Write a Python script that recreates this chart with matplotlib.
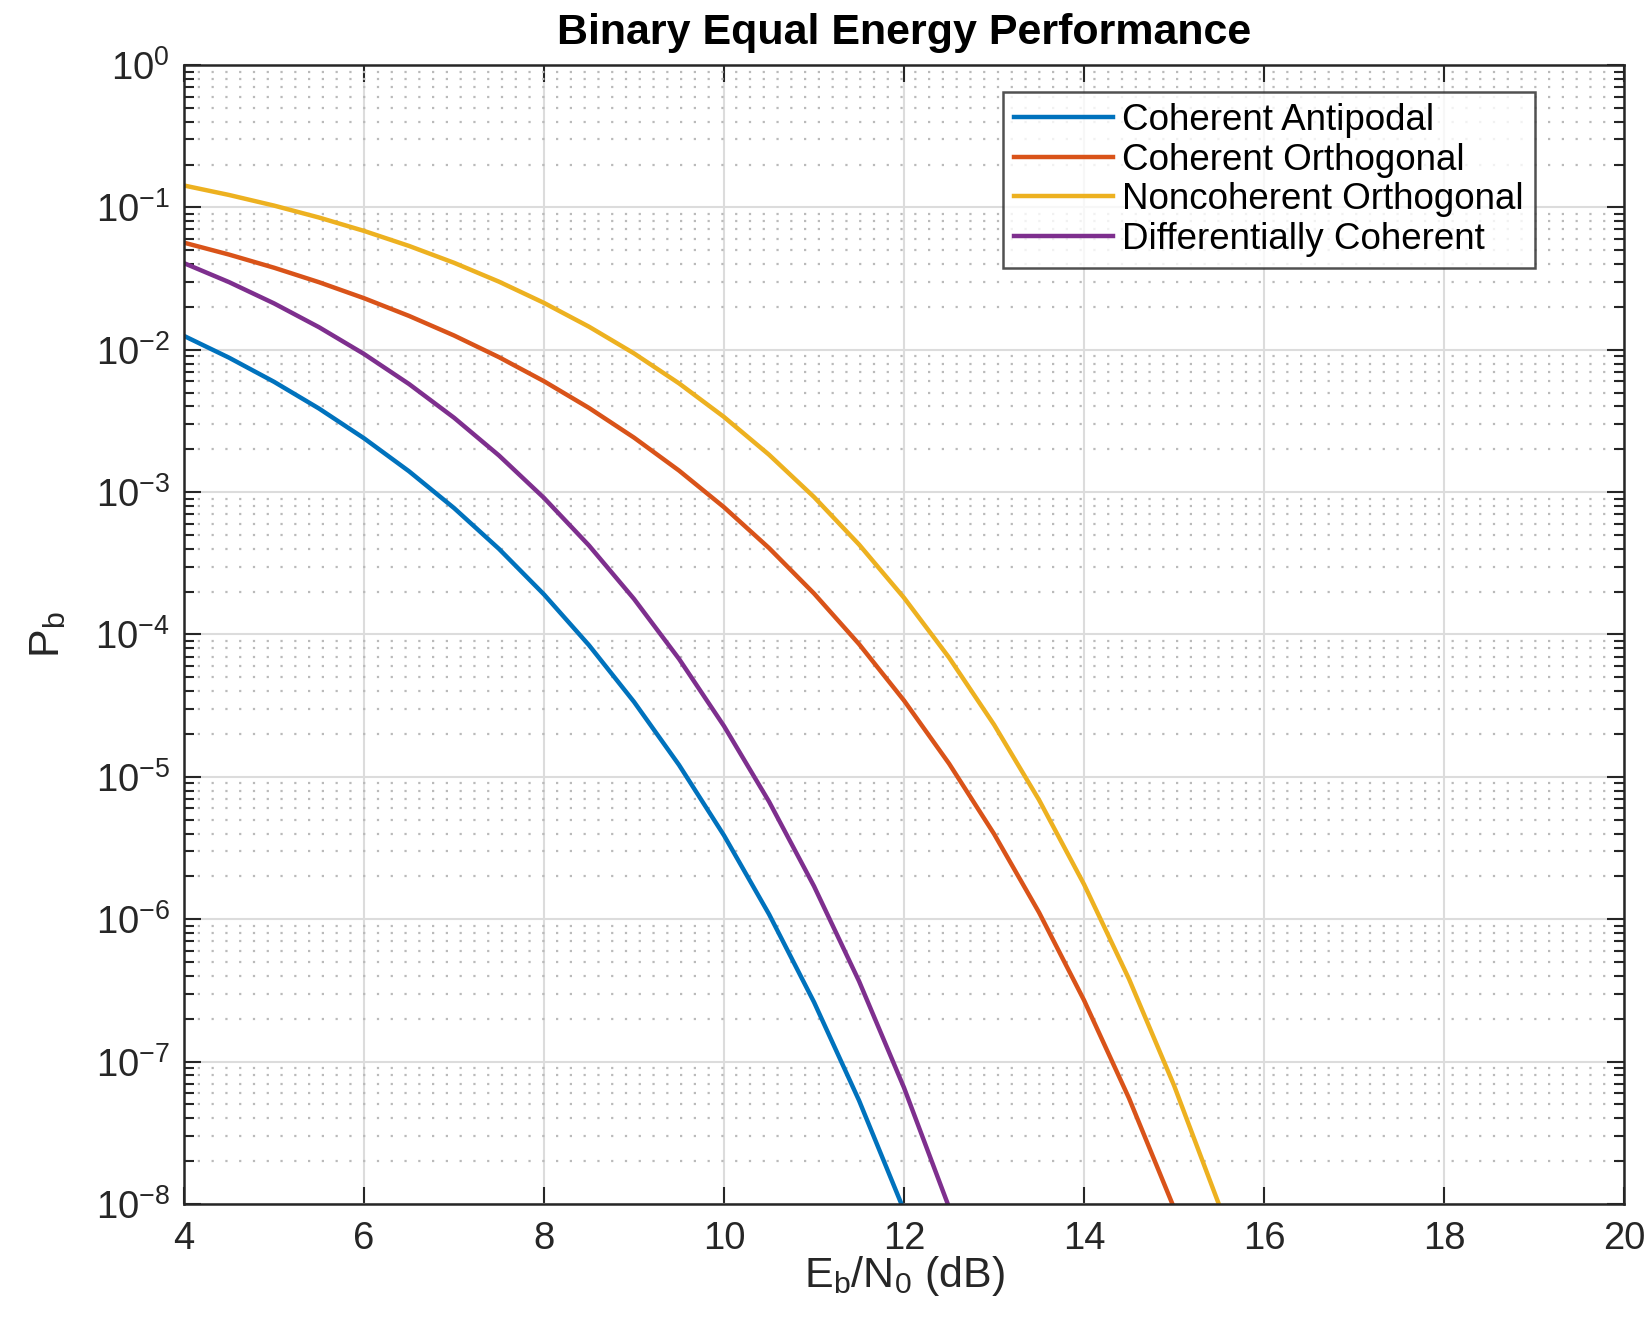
import numpy as np
import matplotlib
matplotlib.use("Agg")
import matplotlib.pyplot as plt
from matplotlib.ticker import LogLocator, LogFormatterSciNotation, NullFormatter

plt.rcParams['font.family'] = ['Liberation Sans', 'DejaVu Sans']
plt.rcParams['mathtext.fontset'] = 'custom'
plt.rcParams['mathtext.rm'] = 'Liberation Sans'
plt.rcParams['mathtext.it'] = 'Liberation Sans:italic'
plt.rcParams['mathtext.default'] = 'regular'

# Eb/N0 samples (dB), read at 0.5 dB spacing
ebn0_db = [4.0, 4.5, 5.0, 5.5, 6.0, 6.5, 7.0, 7.5, 8.0, 8.5, 9.0, 9.5, 10.0,
           10.5, 11.0, 11.5, 12.0, 12.5, 13.0, 13.5, 14.0, 14.5, 15.0, 15.5, 16.0]

coh_antipodal = [1.250e-2, 8.793e-3, 5.954e-3, 3.862e-3, 2.388e-3, 1.400e-3,
                 7.725e-4, 3.988e-4, 1.909e-4, 8.40e-5, 3.36e-5, 1.211e-5,
                 3.872e-6, 1.084e-6, 2.613e-7, 5.329e-8, 9.007e-9, 1.233e-9]

coh_orthogonal = [5.649e-2, 4.660e-2, 3.768e-2, 2.980e-2, 2.301e-2, 1.728e-2,
                  1.259e-2, 8.861e-3, 6.005e-3, 3.899e-3, 2.413e-3, 1.416e-3,
                  7.827e-4, 4.046e-4, 1.940e-4, 8.56e-5, 3.433e-5, 1.239e-5,
                  3.972e-6, 1.115e-6, 2.695e-7, 5.516e-8, 9.361e-9, 1.288e-9]

noncoh_orthogonal = [1.424e-1, 1.222e-1, 1.029e-1, 8.482e-2, 6.831e-2, 5.358e-2,
                     4.080e-2, 3.005e-2, 2.132e-2, 1.451e-2, 9.422e-3, 5.803e-3,
                     3.369e-3, 1.830e-3, 9.231e-4, 4.282e-4, 1.809e-4, 6.879e-5,
                     2.324e-5, 6.881e-6, 1.756e-6, 3.793e-7, 6.795e-8, 9.870e-9,
                     1.133e-9]

diff_coherent = [4.056e-2, 2.985e-2, 2.116e-2, 1.439e-2, 9.333e-3, 5.742e-3,
                 3.329e-3, 1.806e-3, 9.094e-4, 4.211e-4, 1.775e-4, 6.735e-5,
                 2.270e-5, 6.700e-6, 1.704e-6, 3.668e-7, 6.545e-8, 9.463e-9,
                 1.081e-9]

labels = ['Coherent Antipodal', 'Coherent Orthogonal',
          'Noncoherent Orthogonal', 'Differentially Coherent']
colors = ['#0072BD', '#D95319', '#EDB120', '#7E2F8E']
series = [coh_antipodal, coh_orthogonal, noncoh_orthogonal, diff_coherent]

fig = plt.figure(figsize=(16.52, 13.21), dpi=100)
ax = fig.add_axes([0.1114, 0.0886, 0.8717, 0.8622])

for vals, lab, col in zip(series, labels, colors):
    ax.semilogy(ebn0_db[:len(vals)], vals, color=col, lw=3.2, label=lab)

ax.set_xlim(4, 20)
ax.set_ylim(1e-8, 1)
ax.set_xticks(np.arange(4, 21, 2))
ax.yaxis.set_major_locator(LogLocator(base=10, numticks=20))
ax.yaxis.set_minor_locator(LogLocator(base=10, subs=np.arange(2, 10), numticks=20))
ax.yaxis.set_major_formatter(LogFormatterSciNotation())
ax.yaxis.set_minor_formatter(NullFormatter())

ax.grid(True, which='major', color='#dcdcdc', lw=1.5, ls='-')
ax.grid(True, which='minor', axis='y', color='#bababa', lw=1.6, ls=(0, (1, 5.2)))
ax.set_axisbelow(True)

ax.tick_params(which='both', direction='in', top=True, right=True,
               colors='#262626', labelsize=27.5)
ax.tick_params(which='major', length=12, width=1.5)
ax.tick_params(which='minor', length=7, width=1.5)
ax.tick_params(axis='x', pad=12)
ax.tick_params(axis='y', pad=10)
for sp in ax.spines.values():
    sp.set_linewidth(1.8)
    sp.set_color('#262626')

ax.set_title('Binary Equal Energy Performance', fontsize=31, fontweight='bold', pad=15)
ax.set_xlabel('E$_b$/N$_0$ (dB)', fontsize=31, color='#262626', labelpad=-2)
ax.set_ylabel('P$_b$', fontsize=31, color='#262626', labelpad=20)

leg = ax.legend(loc='upper right', fontsize=26.5, frameon=True, fancybox=False,
                edgecolor='#262626', handlelength=2.7, borderaxespad=0.0,
                bbox_to_anchor=(0.938, 0.976), labelspacing=0.12,
                handletextpad=0.25, borderpad=0.3)
leg.get_frame().set_linewidth(1.8)

fig.savefig('out.png', dpi=100)
